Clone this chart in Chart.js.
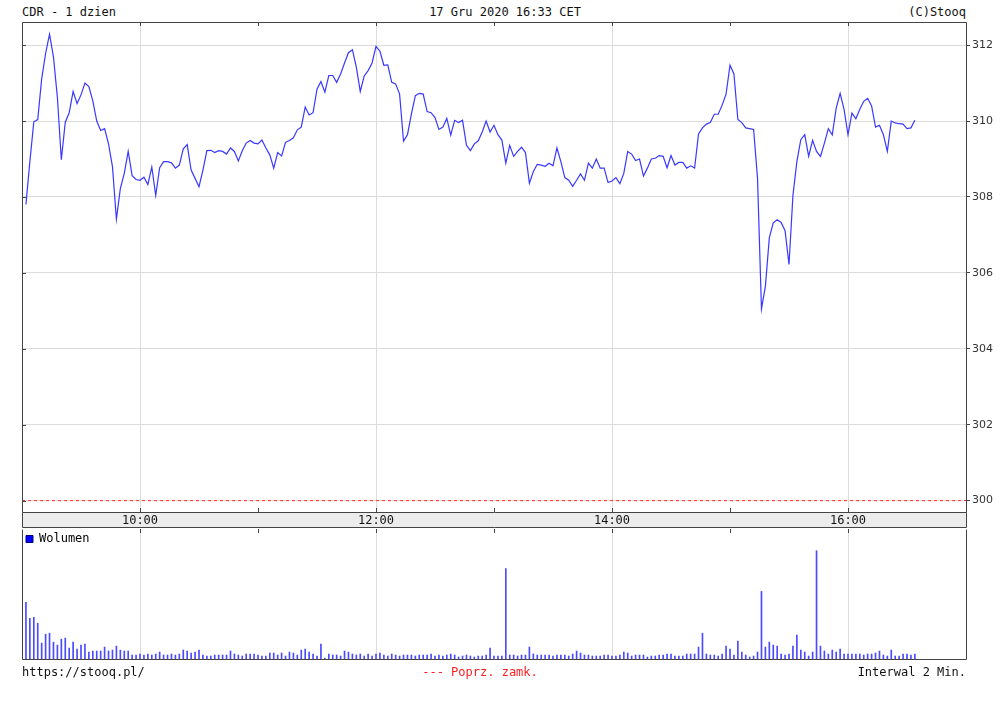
<!DOCTYPE html>
<html>
<head>
<meta charset="utf-8">
<script src="https://cdn.jsdelivr.net/npm/chart.js@4.4.1/dist/chart.umd.min.js"></script>
<style>
  body { margin: 0; background: #fff; }
  #wrap { position: relative; width: 1000px; height: 703px; }
  .t { position: absolute; font: 12px "DejaVu Sans Mono", monospace; line-height: 14px; color: #111; white-space: pre; }
  canvas { position: absolute; left: 0; }
</style>
</head>
<body>
<div id="wrap">
  <div class="t" style="left:22px;top:5px">CDR - 1 dzien</div>
  <div class="t" style="left:0;width:1010px;text-align:center;top:5px">17 Gru 2020 16:33 CET</div>
  <div class="t" style="right:34px;top:5px">(C)Stooq</div>
  <canvas id="price" width="1000" height="530" style="top:0"></canvas>
  <canvas id="vol" width="1000" height="174" style="top:529px"></canvas>
  <div class="t" style="left:22px;top:665px">https://stooq.pl/</div>
  <div class="t" style="left:0;width:960px;text-align:center;top:665px;color:#ff2020">--- Poprz. zamk.</div>
  <div class="t" style="right:34px;top:665px">Interwal 2 Min.</div>
</div>
<script>
// sesja i interwal
const sessionStart = '09:00';
const sessionEnd = '17:00';
const firstBar = '09:02';
const intervalMin = 2;

// kurs zamkniecia co 2 minuty (od 09:02)
const price = [
  307.80, 308.93, 309.98, 310.04, 311.11, 311.78, 312.29, 311.69, 310.62, 308.98,
  309.97, 310.22, 310.78, 310.46, 310.69, 311.00, 310.91, 310.53, 310.00, 309.75,
  309.80, 309.40, 308.80, 307.42, 308.22, 308.62, 309.20, 308.56, 308.46, 308.44,
  308.52, 308.33, 308.79, 308.04, 308.77, 308.93, 308.93, 308.90, 308.76, 308.84,
  309.27, 309.38, 308.71, 308.49, 308.27, 308.71, 309.22, 309.23, 309.17, 309.22,
  309.20, 309.13, 309.29, 309.20, 308.95, 309.22, 309.42, 309.49, 309.42, 309.40,
  309.50, 309.29, 309.11, 308.76, 309.17, 309.08, 309.44, 309.49, 309.56, 309.77,
  309.84, 310.37, 310.16, 310.22, 310.84, 311.04, 310.76, 311.20, 311.20, 311.02,
  311.24, 311.53, 311.80, 311.88, 311.42, 310.78, 311.19, 311.33, 311.53, 311.97,
  311.84, 311.47, 311.48, 311.02, 310.98, 310.71, 309.47, 309.64, 310.18, 310.67,
  310.73, 310.71, 310.25, 310.22, 310.09, 309.78, 309.84, 310.07, 309.63, 310.02,
  309.96, 310.02, 309.36, 309.22, 309.40, 309.48, 309.71, 310.00, 309.71, 309.89,
  309.64, 309.50, 308.89, 309.36, 309.07, 309.20, 309.31, 309.17, 308.36, 308.67,
  308.86, 308.84, 308.81, 308.89, 308.82, 309.29, 308.93, 308.51, 308.44, 308.28,
  308.44, 308.61, 308.44, 308.89, 308.76, 309.00, 308.76, 308.76, 308.38, 308.42,
  308.51, 308.35, 308.62, 309.20, 309.13, 308.96, 309.00, 308.55, 308.76, 309.00,
  309.02, 309.09, 309.07, 308.77, 309.09, 308.84, 308.91, 308.91, 308.76, 308.82,
  308.76, 309.66, 309.82, 309.92, 309.96, 310.18, 310.18, 310.42, 310.71, 311.47,
  311.24, 310.04, 309.96, 309.82, 309.80, 309.78, 308.49, 305.05, 305.65, 306.93,
  307.32, 307.40, 307.33, 307.11, 306.22, 308.04, 308.93, 309.51, 309.64, 309.07,
  309.49, 309.20, 309.07, 309.42, 309.80, 309.64, 310.34, 310.73, 310.31, 309.64,
  310.21, 310.06, 310.31, 310.52, 310.60, 310.40, 309.84, 309.89, 309.64, 309.20,
  310.00, 309.95, 309.93, 309.92, 309.80, 309.82, 310.02
];

// wolumen (jednostki wzgledne)
const volume = [
  57, 41, 42, 36, 16, 25, 26, 17, 14, 20,
  21, 11, 17, 10, 14, 15, 7, 8, 8, 8,
  12, 8, 9, 13, 9, 8, 8, 4, 4, 5,
  4, 5, 4, 5, 7, 4, 4, 5, 4, 5,
  9, 8, 6, 7, 9, 4, 3, 3, 4, 4,
  4, 4, 8, 5, 4, 3, 5, 5, 5, 4,
  3, 3, 6, 6, 4, 6, 3, 7, 6, 4,
  9, 10, 7, 5, 3, 15, 1, 5, 4, 4,
  3, 8, 7, 5, 4, 5, 3, 5, 3, 5,
  6, 4, 3, 5, 4, 3, 4, 4, 4, 3,
  4, 4, 4, 5, 3, 4, 3, 4, 5, 4,
  2, 3, 4, 3, 2, 3, 3, 4, 11, 3,
  3, 3, 91, 4, 4, 3, 4, 4, 12, 5,
  4, 4, 4, 4, 3, 4, 4, 4, 3, 5,
  8, 6, 4, 4, 3, 3, 3, 4, 4, 3,
  3, 4, 7, 6, 3, 4, 4, 4, 2, 3,
  3, 4, 4, 5, 5, 3, 3, 3, 5, 5,
  5, 12, 26, 5, 4, 4, 3, 5, 13, 10,
  4, 18, 7, 4, 2, 3, 7, 68, 12, 17,
  14, 13, 5, 4, 5, 13, 24, 9, 7, 3,
  7, 109, 13, 8, 5, 9, 7, 10, 5, 5,
  5, 5, 5, 4, 5, 5, 6, 8, 4, 3,
  9, 3, 3, 5, 5, 4, 5
];

const prevClose = 300.00;
const yTicks = [300, 302, 304, 306, 308, 310, 312];
const xTickLabels = ['10:00', '12:00', '14:00', '16:00'];

function toMin(s) { const p = s.split(':'); return +p[0] * 60 + +p[1]; }
const t0 = toMin(sessionStart);
const tSpan = toMin(sessionEnd) - t0;
const firstOff = toMin(firstBar) - t0;
function fmt(m) {
  const t = t0 + m;
  return String(Math.floor(t / 60)).padStart(2, '0') + ':' + String(t % 60).padStart(2, '0');
}
const priceData = price.map((v, i) => ({ x: firstOff + i * intervalMin, y: v }));
const volData = volume.map((v, i) => ({ x: firstOff + i * intervalMin, y: v }));

const gridCol = ctx => (ctx.tick && xTickLabels.includes(fmt(ctx.tick.value))) ? '#dcdcdc' : 'rgba(0,0,0,0)';
const MONO = '"DejaVu Sans Mono", monospace';

// ramka, pasek czasu i kreski godzinowe
const framePlugin = {
  id: 'frame',
  beforeDraw(chart, args, o) {
    if (!o.band) return;
    const { ctx, chartArea: a } = chart;
    const x = chart.scales.x;
    ctx.save();
    ctx.fillStyle = '#ececec';
    ctx.fillRect(a.left, a.bottom, a.right - a.left, x.bottom - a.bottom);
    ctx.restore();
  },
  afterDraw(chart, args, o) {
    const { ctx, chartArea: a } = chart;
    const x = chart.scales.x;
    const L = Math.round(a.left) + 0.5, R = Math.round(a.right) + 0.5;
    const T = Math.round(a.top) + 0.5, B = Math.round(a.bottom) + 0.5;
    ctx.save();
    ctx.strokeStyle = '#444';
    ctx.lineWidth = 1;
    ctx.beginPath();
    if (o.band) {
      ctx.rect(L, T, R - L, B - T);
      const bb = Math.round(x.bottom) - 0.5;
      ctx.moveTo(L, bb); ctx.lineTo(R, bb);
      ctx.moveTo(L, B); ctx.lineTo(L, bb);
      ctx.moveTo(R, B); ctx.lineTo(R, bb);
    } else {
      ctx.moveTo(L, T); ctx.lineTo(L, B); ctx.lineTo(R, B); ctx.lineTo(R, T);
    }
    x.ticks.forEach(t => {
      if (t.value <= 0 || t.value >= tSpan) return;
      const px = Math.round(x.getPixelForValue(t.value)) + 0.5;
      ctx.moveTo(px, a.top); ctx.lineTo(px, a.top + 4);
      if (o.band) { ctx.moveTo(px, a.bottom); ctx.lineTo(px, a.bottom - 4); }
    });
    if (o.band) {
      const y = chart.scales.y;
      yTicks.forEach(v => {
        const py = Math.round(y.getPixelForValue(v)) + 0.5;
        ctx.moveTo(a.left, py); ctx.lineTo(a.left + 4, py);
      });
    }
    ctx.stroke();
    ctx.restore();
  }
};

new Chart(document.getElementById('price'), {
  type: 'line',
  data: {
    datasets: [{
      label: 'CDR',
      data: priceData,
      borderColor: '#3838ff',
      borderWidth: 1.2,
      pointRadius: 0,
      tension: 0
    }, {
      label: 'Poprz. zamk.',
      data: [{ x: 0, y: prevClose }, { x: tSpan, y: prevClose }],
      borderColor: '#ff3030',
      borderWidth: 1,
      borderDash: [3, 3],
      pointRadius: 0
    }]
  },
  options: {
    responsive: false,
    animation: false,
    layout: { padding: { left: 22, top: 22, right: 0, bottom: 2 } },
    plugins: {
      legend: { display: false },
      tooltip: { enabled: false },
      frame: { band: true }
    },
    scales: {
      x: {
        type: 'linear',
        min: 0,
        max: tSpan,
        afterFit: s => { s.height = 16; },
        border: { display: false },
        grid: { color: gridCol, drawTicks: false },
        ticks: {
          stepSize: 60,
          autoSkip: false,
          maxRotation: 0,
          padding: 2,
          color: '#111',
          font: { family: MONO, size: 12 },
          callback: v => xTickLabels.includes(fmt(v)) ? fmt(v) : ''
        }
      },
      y: {
        position: 'right',
        min: 299.70,
        max: 312.61,
        afterFit: s => { s.width = 34; },
        afterBuildTicks: s => { s.ticks = yTicks.map(v => ({ value: v })); },
        border: { display: false },
        grid: { color: '#dcdcdc', tickColor: '#444', tickLength: 4 },
        ticks: {
          padding: 2,
          color: '#333',
          font: { family: '"DejaVu Sans", sans-serif', size: 11 },
          callback: v => String(v)
        }
      }
    }
  },
  plugins: [framePlugin]
});

new Chart(document.getElementById('vol'), {
  type: 'bar',
  data: {
    datasets: [{
      label: 'Wolumen',
      data: volData,
      backgroundColor: '#4a4aff',
      barThickness: 1
    }]
  },
  options: {
    responsive: false,
    animation: false,
    layout: { padding: { left: 22, top: 0, right: 34, bottom: 44 } },
    plugins: {
      tooltip: { enabled: false },
      frame: { band: false },
      legend: {
        position: 'chartArea',
        align: 'start',
        labels: {
          boxWidth: 7,
          boxHeight: 7,
          padding: 4,
          color: '#111',
          font: { family: MONO, size: 12 },
          generateLabels: () => [{ text: 'Wolumen', fillStyle: '#0000ff', strokeStyle: '#000080', lineWidth: 1, datasetIndex: 0 }]
        }
      }
    },
    scales: {
      x: {
        type: 'linear',
        min: 0,
        max: tSpan,
        offset: false,
        afterFit: s => { s.height = 0; },
        border: { display: false },
        grid: { color: gridCol, drawTicks: false, offset: false },
        ticks: { display: false, stepSize: 60 }
      },
      y: {
        display: false,
        min: 0,
        max: Math.max(...volume) * 1.2
      }
    }
  },
  plugins: [framePlugin]
});
</script>
</body>
</html>
